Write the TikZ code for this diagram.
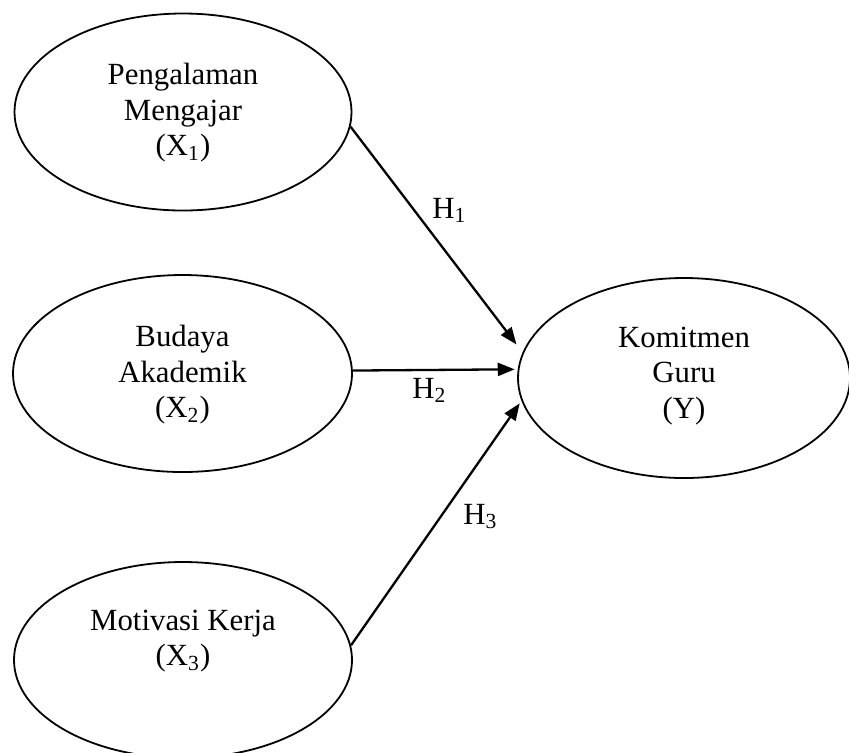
\documentclass[tikz,border=0pt]{standalone}
\usepackage{fontspec}
\setmainfont{Liberation Serif}
\usetikzlibrary{shapes.geometric,arrows.meta}
\begin{document}
\begin{tikzpicture}[x=0.5pt,y=-0.5pt,
  var/.style={ellipse, draw, line width=0.9pt, inner sep=0pt},
  lbl/.style={align=center, inner sep=0pt, font=\fontsize{15.4pt}{17.75pt}\selectfont},
  hyp/.style={inner sep=0pt, anchor=base west, font=\fontsize{15.4pt}{17.75pt}\selectfont},
  link/.style={line width=1.15pt, -{Triangle[length=8.5pt,width=6.5pt]}}]
\useasboundingbox (0,0) rectangle (849,752);
\node[var, minimum width=168.5pt, minimum height=98.5pt] (x1) at (183,112) {};
\node[var, minimum width=169.5pt, minimum height=98.5pt] (x2) at (182.5,373.5) {};
\node[var, minimum width=169pt, minimum height=98pt] (x3) at (183,660) {};
\node[var, minimum width=166pt, minimum height=100pt] (y) at (684,378) {};
\node[lbl] (t1) at (183,113) {Pengalaman\\Mengajar\\(X\textsubscript{1})};
\node[lbl] (t2) at (182.5,375) {Budaya\\Akademik\\(X\textsubscript{2})};
\node[lbl] (t3) at (183,641) {Motivasi Kerja\\(X\textsubscript{3})};
\node[lbl] (t4) at (684,376) {Komitmen\\Guru\\(Y)};
\draw[link, shorten >=5pt] (x1.-5) -- (y.171.7);
\draw[link, shorten >=1.5pt] (x2.1) -- (y.177);
\draw[link, shorten >=1.5pt] (x3.5) -- (y.188.3);
\node[hyp] (h1) at (432,218) {H\textsubscript{1}};
\node[hyp] (h2) at (412,398) {H\textsubscript{2}};
\node[hyp] (h3) at (463,524) {H\textsubscript{3}};
\end{tikzpicture}
\end{document}
